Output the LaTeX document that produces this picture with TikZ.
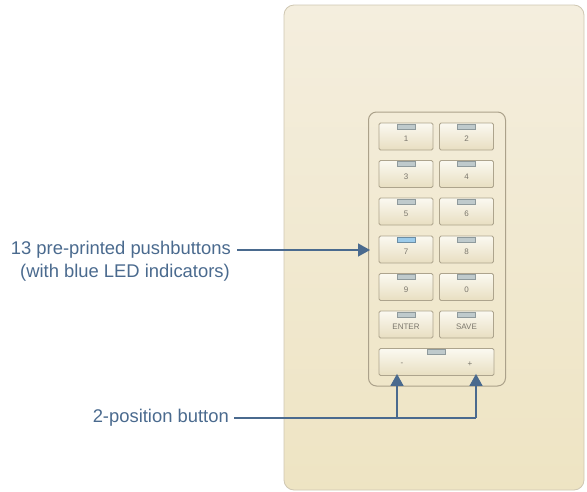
\documentclass[tikz,border=0pt]{standalone}
\usepackage{fontspec}
\setmainfont{Liberation Sans}
\usetikzlibrary{arrows.meta}
\definecolor{ink}{HTML}{4A6A8E}
\definecolor{paneltop}{HTML}{F4EEDE}
\definecolor{panelbot}{HTML}{EEE4C3}
\definecolor{panelline}{HTML}{CFC7B2}
\definecolor{bezelline}{HTML}{ABA18A}
\definecolor{btntop}{HTML}{FBF9F1}
\definecolor{btnbot}{HTML}{E8DEC1}
\definecolor{btnline}{HTML}{ADA48D}
\definecolor{btntext}{HTML}{7A766C}
\definecolor{ledfill}{HTML}{BFCACC}
\definecolor{ledline}{HTML}{8F9A9C}
\definecolor{ledblue}{HTML}{9CCBEA}
\begin{document}
\begin{tikzpicture}[x=1pt,y=-1pt,
  panel/.style={draw=panelline, line width=0.8pt, rounded corners=10pt, top color=paneltop, bottom color=panelbot, inner sep=0},
  bezel/.style={draw=bezelline, line width=1pt, rounded corners=8pt, inner sep=0},
  btn/.style={draw=btnline, line width=0.8pt, rounded corners=1.5pt, top color=btntop, bottom color=btnbot, minimum width=54pt, minimum height=27pt, inner sep=0, font=\fontsize{8}{9}\selectfont, text=btntext, text depth=0pt, text height=10pt},
  widebtn/.style={btn, minimum width=115pt},
  led/.style={draw=ledline, fill=ledfill, line width=0.6pt, minimum width=18pt, minimum height=5pt, inner sep=0},
  ledon/.style={led, fill=ledblue, draw=ledblue!70!black},
  lbl/.style={text=ink, font=\fontsize{18.4}{22}\selectfont, inner sep=0},
  conn/.style={draw=ink, line width=1.4pt},
  tip/.style={-{Triangle[length=12pt,width=13pt]}}
]
\useasboundingbox (0,0) rectangle (587,491);
\node[panel, minimum width=300pt, minimum height=485pt] (panel) at (434,247.5) {};
\node[bezel, minimum width=137pt, minimum height=274pt] (bezel) at (437,249) {};
% buttons
\foreach \l/\r/\y [count=\i] in {1/2/136.5,3/4/174,5/6/211.5,7/8/249.5,9/0/287,ENTER/SAVE/324.5}{
  \node[btn] (bl\i) at (406,\y) {\l};
  \node[btn] (br\i) at (466.5,\y) {\r};
}
\node[widebtn] (bw) at (436.5,362) {};
\node[text=btntext, font=\fontsize{8}{9}\selectfont, inner sep=0] (minus) at (402,364) {-};
\node[text=btntext, font=\fontsize{8}{9}\selectfont, inner sep=0] (plus) at (470,364) {+};
% LEDs
\foreach \i in {1,2,3,5,6}{
  \node[led, anchor=north] (ledl\i) at ([yshift=-1pt]bl\i.north) {};
  \node[led, anchor=north] (ledr\i) at ([yshift=-1pt]br\i.north) {};
}
\node[ledon, anchor=north] (ledl4) at ([yshift=-1pt]bl4.north) {};
\node[led, anchor=north] (ledr4) at ([yshift=-1pt]br4.north) {};
\node[led, anchor=north] (ledw) at ([yshift=-1pt]bw.north) {};
% labels
\node[lbl, anchor=east] (lbl1) at (231,250) {13 pre-printed pushbuttons};
\node[lbl, anchor=east] (lbl1b) at (230,273) {(with blue LED indicators)};
\node[lbl, anchor=east] (lbl2) at (229,418) {2-position button};
% connectors
\coordinate (j1) at (397,418);
\coordinate (j2) at (476,418);
\coordinate (t1) at (370,250);
\draw[conn, tip, shorten <=6pt] (lbl1.east) -- (t1);
\draw[conn, shorten <=5pt] (lbl2.east) -- (j2);
\draw[conn, tip] (j1) -- ([yshift=2pt]j1 |- bw.south);
\draw[conn, tip] (j2) -- ([yshift=2pt]j2 |- bw.south);
\end{tikzpicture}
\end{document}
